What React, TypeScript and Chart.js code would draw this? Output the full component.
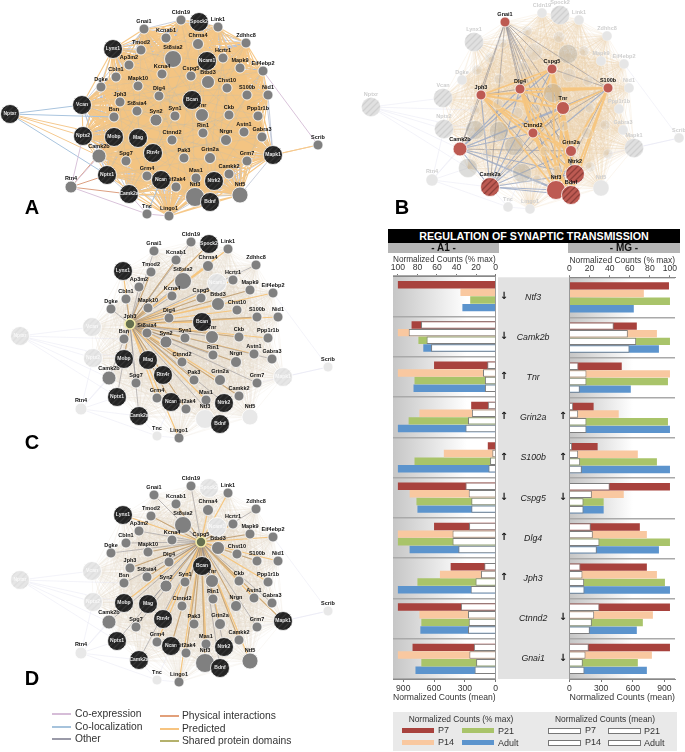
import React, { useEffect, useRef } from "react";
import { Chart, registerables } from "chart.js";

Chart.register(...registerables);

// ---------- bar chart data ----------
const genes = ["Ntf3", "Camk2b", "Tnr", "Grin2a", "S100b", "Cspg5", "Dlg4", "Jph3", "Ctnnd2", "Gnai1"];
const a1MaxP7 = [100, 86, 63, 25, 8, 100, 63, 46, 100, 85];
const a1MaxP14 = [36, 100, 100, 78, 53, 88, 100, 57, 78, 100];
const a1MaxP21 = [26, 79, 83, 89, 83, 81, 100, 80, 76, 76];
const a1MaxAdult = [34, 74, 84, 100, 100, 80, 88, 100, 77, 82];
const a1MeanP7 = [null, 727, 82, 76, 8, 294, 259, 111, 338, 212];
const a1MeanP14 = [null, 847, 123, 231, 32, 262, 420, 142, 269, 256];
const a1MeanP21 = [null, 673, 104, 269, 54, 237, 420, 196, 262, 190];
const a1MeanAdult = [null, 629, 104, 294, 70, 237, 363, 243, 269, 205];
const mgMaxP7 = [99, 67, 52, 24, 28, 100, 70, 77, 100, 100];
const mgMaxP14 = [74, 87, 100, 49, 68, 54, 77, 87, 83, 82];
const mgMaxP21 = [100, 100, 98, 98, 87, 34, 100, 95, 73, 68];
const mgMaxAdult = [64, 89, 61, 100, 100, 34, 89, 100, 67, 77];
const mgMeanP7 = [null, 420, 85, 35, 25, 382, 202, 104, 284, 183];
const mgMeanP14 = [null, 553, 161, 82, 82, 212, 221, 123, 234, 152];
const mgMeanP21 = [null, 632, 161, 161, 101, 133, 284, 139, 212, 126];
const mgMeanAdult = [null, 569, 98, 161, 117, 133, 259, 142, 193, 142];
const arrowsA1 = ["↓", "↓", "↑", "↑", "↑", "↓", "↑", "↑", "", ""];
const arrowsMG = ["", "", "", "↑", "↑", "↓", "", "", "↓", "↓"];
const stages = ["P7", "P14", "P21", "Adult"];

// ---------- network data (layout) ----------
const geneNames = ["Cldn19","Spock2","Link1","Gnai1","Kcnab1","Chrna4","Zdhhc8","Tmod2","Lynx1","St8sia2","Ncam1","Hcrtr1","Ap3m2","Mapk9","Eif4ebp2","Kcna4","Cspg5","Btbd3","Cbln1","Mapk10","Chst10","Dgke","S100b","Nid1","Dlg4","Jph3","Bcan","Vcan","St8sia4","Syn1","Tnr","Ckb","Ppp1r1b","Bsn","Nptxr","Syn2","Rin1","Nrgn","Astn1","Gabra3","Nptx2","Mobp","Mag","Ctnnd2","Rtn4r","Camk2b","Pak3","Grin2a","Grm7","Mapk1","Scrib","Spg7","Camkk2","Grm4","Nptx1","Ncan","Mas1","Ntrk2","Eif2ak4","Rtn4","Camk2a","Ntf3","Ntf5","Bdnf","Tnc","Lingo1"];
const nodeX = [181,199,218,144,166,198,246,141,113,173,207,223,129,240,263,162,191,208,116,138,227,101,247,268,159,120,192,82,137,175,202,229,258,114,10,156,203,226,244,262,83,114,138,172,153,99,184,210,247,273,318,126,229,147,107,161,196,214,176,71,129,195,240,210,147,169];
const nodeY = [20,22,27,29,38,44,43,50,49,59,61,58,65,68,71,74,76,82,77,86,88,87,95,95,96,102,100,105,111,116,115,115,116,117,114,120,133,140,132,137,136,137,138,140,153,156,158,158,161,155,145,161,174,176,175,180,178,181,187,187,194,197,195,202,214,216];
const nodeSize = [5,9.5,5,5,5,5.5,5,5,9.5,8.5,9.5,5,5,5,5,5,5,6.5,5,5,5,5,5,5,5,5,9.5,9.5,5,5,6.5,5,5,5,9.5,6,5,5.5,5,5,9.5,9.5,9.5,5,9.5,7,5,5.5,5,9.5,5,5,5,5,9.5,9.5,5,9.5,5,6,9.5,9.5,8,9.5,5,5];
const darkGenes = ["Spock2","Lynx1","Ncam1","Bcan","Vcan","Nptxr","Nptx2","Mobp","Mag","Rtn4r","Mapk1","Nptx1","Ncan","Ntrk2","Camk2a","Bdnf"];
const sparseGenes = ["Nptxr","Scrib","Rtn4","Tnc"];
const rimGenes = ["Cldn19","Spock2","Link1","Gnai1","Zdhhc8","Lynx1","Eif4ebp2","Dgke","Nid1","Vcan","Nptx2","Mapk1","Rtn4","Tnc","Lingo1","Ntf5","Nptx1","Camk2a","Kcnab1","Chrna4","Tmod2","Cbln1","Ap3m2","Camk2b","Camkk2","Bdnf","Ntrk2","Grm7","Mas1"];
const sparseLinks: [string, string, string][] = [
  ["Nptxr","Vcan","coloc"],["Nptxr","Bsn","coloc"],["Nptxr","Nptx2","pred"],["Nptxr","Mobp","pred"],["Nptxr","Nptx1","coloc"],["Nptxr","Camk2b","pred"],
  ["Scrib","Mapk1","pred"],["Scrib","Eif4ebp2","coexp"],["Scrib","Grm7","pred"],
  ["Rtn4","Nptx1","phys"],["Rtn4","Camk2a","phys"],["Rtn4","Nptx2","coexp"],["Rtn4","Camk2b","coexp"],["Rtn4","Tnc","coexp"],["Rtn4","Mobp","phys"],
  ["Tnc","Lingo1","coexp"],["Tnc","Camk2a","coexp"],["Tnc","Ncan","coloc"],
];
const highlightB = ["Gnai1","Cspg5","Dlg4","Jph3","S100b","Tnr","Ctnnd2","Camk2b","Grin2a","Ntrk2","Camk2a","Ntf3","Bdnf"];
const labelledFaintB = ["Cldn19","Spock2","Link1","Lynx1","Zdhhc8","Eif4ebp2","Dgke","Nid1","Vcan","Nptxr","Nptx2","Ppp1r1b","Gabra3","Mapk1","Scrib","Rtn4","Ntf5","Tnc","Lingo1","Mapk9"];
const fadedC = ["Vcan","Nptxr","Nptx2","Mapk1","Scrib","Rtn4","Ntf3","Ntf5","Tnc","Ncam1"];
const fadedD = ["Spock2","Ncam1","Vcan","Nptxr","Nptx2","Scrib","Rtn4","Tnc"];
const panelShiftX = [0, 361, 10, 10];
const panelShiftY = [0, -7, 222, 466];

const linkColors: Record<string, string> = { coexp: "#d9c3da", coloc: "#a9c4de", pred: "#f5c98f", phys: "#dc9f80" };

type Pt = { x: number; y: number };
const gap: Pt = { x: NaN, y: NaN };
const idx = (g: string) => geneNames.indexOf(g);

function edgeLine(pts: Pt[], i: number, j: number, p: number) {
  pts.push({ x: nodeX[i] + panelShiftX[p], y: nodeY[i] + panelShiftY[p] });
  pts.push({ x: nodeX[j] + panelShiftX[p], y: nodeY[j] + panelShiftY[p] });
  pts.push(gap);
}

function lineDs(pts: Pt[], color: string, width: number, order: number) {
  return { type: "line", data: pts, borderColor: color, borderWidth: width, pointRadius: 0, spanGaps: false, tension: 0, fill: false, order, clip: false };
}

function hatch(base: string, stripe: string) {
  const c = document.createElement("canvas");
  c.width = 6; c.height = 6;
  const g = c.getContext("2d")!;
  g.fillStyle = base; g.fillRect(0, 0, 6, 6);
  g.strokeStyle = stripe; g.lineWidth = 1.3;
  g.beginPath();
  g.moveTo(-1, 1); g.lineTo(1, -1);
  g.moveTo(-1, 7); g.lineTo(7, -1);
  g.moveTo(5, 7); g.lineTo(7, 5);
  g.stroke();
  return g.createPattern(c, "repeat")!;
}

function buildNetwork() {
  const ds: any[] = [];
  const n = geneNames.length;
  const dense: number[] = [];
  for (let i = 0; i < n; i++) if (!sparseGenes.includes(geneNames[i])) dense.push(i);
  const core = dense.filter((i) => !rimGenes.includes(geneNames[i]));

  const darkHatch = hatch("#242424", "#343434");
  const redHatch = hatch("#bd5a52", "#8f3f3a");
  const faintHatch = hatch("#e0e0e0", "#d0d0d0");
  const paleHatch = hatch("#e6e6e6", "#dfdfdf");

  const labels: { t: string; x: number; y: number; c: string; f: number }[] = [];

  // Panel A: full network
  {
    const gray: Pt[] = [], orange: Pt[] = [], blue: Pt[] = [], mass: Pt[] = [];
    dense.forEach((a, ia) => dense.forEach((b, ib) => {
      if (ib <= ia) return;
      if ((a + b) % 3 === 0) edgeLine(gray, a, b, 0);
      else edgeLine(orange, a, b, 0);
      if ((a + 3 * b) % 19 === 0) edgeLine(blue, a, b, 0);
    }));
    core.forEach((a, ia) => core.forEach((b, ib) => { if (ib > ia) edgeLine(mass, a, b, 0); }));
    ds.push(lineDs(gray, "rgba(176,186,204,0.85)", 0.8, 10));
    ds.push(lineDs(orange, "rgba(245,197,130,0.95)", 1.1, 9));
    ds.push(lineDs(mass, "rgb(243,196,130)", 5, 8));
    ds.push(lineDs(blue, "rgba(150,180,205,0.3)", 0.5, 7));
    for (const key of Object.keys(linkColors)) {
      const pts: Pt[] = [];
      sparseLinks.filter((l) => l[2] === key).forEach((l) => edgeLine(pts, idx(l[0]), idx(l[1]), 0));
      ds.push(lineDs(pts, linkColors[key], 1, 6));
    }
  }

  const faintEdges = (p: number) => {
    const pts: Pt[] = [];
    dense.forEach((a, ia) => dense.forEach((b, ib) => { if (ib > ia) edgeLine(pts, a, b, p); }));
    ds.push(lineDs(pts, p === 1 ? "rgba(232,208,172,0.32)" : "rgba(226,216,202,0.3)", 0.6, 9));
    const s: Pt[] = [];
    sparseLinks.forEach((l) => edgeLine(s, idx(l[0]), idx(l[1]), p));
    ds.push(lineDs(s, "rgba(225,225,240,0.6)", 0.7, 8));
  };

  // Panel B: highlighted subset
  {
    faintEdges(1);
    const gray: Pt[] = [], orange: Pt[] = [], blue: Pt[] = [];
    const h = highlightB.map(idx);
    h.forEach((a, ia) => h.forEach((b, ib) => {
      if (ib <= ia) return;
      const ga = geneNames[a], gb = geneNames[b];
      if (ga === "Gnai1" || gb === "Gnai1" || (ia + ib) % 5 === 0) edgeLine(gray, a, b, 1);
      else if (ga.startsWith("Camk2") || gb.startsWith("Camk2")) edgeLine(blue, a, b, 1);
      else edgeLine(orange, a, b, 1);
    }));
    ds.push(lineDs(gray, "rgba(140,140,150,0.7)", 0.8, 7));
    ds.push(lineDs(blue, "rgba(150,168,200,0.8)", 1.1, 6));
    ds.push(lineDs(orange, "rgba(247,197,125,0.95)", 1.8, 5));
  }

  // Panels C and D: hub spokes
  [[2, "Jph3", fadedC], [3, "Cspg5", fadedD]].forEach(([p, hub, faded]: any) => {
    faintEdges(p);
    const gray: Pt[] = [], orange: Pt[] = [];
    const hi = idx(hub);
    for (let i = 0; i < n; i++) {
      if (i === hi || faded.includes(geneNames[i])) continue;
      if (i % 3 === 0) edgeLine(gray, hi, i, p);
      else edgeLine(orange, hi, i, p);
      if (i % 3 === 1) edgeLine(gray, hi, i, p);
    }
    ds.push(lineDs(orange, "rgba(246,196,122,0.95)", 1.2, 6));
    ds.push(lineDs(gray, "rgba(125,125,135,0.55)", 0.8, 5));
  });

  // Nodes, per panel
  [0, 1, 2, 3].forEach((p) => {
    const data: any[] = [], fill: any[] = [], line: any[] = [], bw: number[] = [];
    const faded = p === 2 ? fadedC : p === 3 ? fadedD : [];
    const hub = p === 2 ? "Jph3" : p === 3 ? "Cspg5" : "";
    for (let i = 0; i < n; i++) {
      const g = geneNames[i];
      const isDark = darkGenes.includes(g);
      const x = nodeX[i] + panelShiftX[p];
      const y = nodeY[i] + panelShiftY[p];
      const r = nodeSize[i];
      data.push({ x, y, r });
      let f: any, lc = "#ffffff", b = 0.8;
      let label = "#111111";
      let show = true;
      if (p === 1) {
        if (highlightB.includes(g)) {
          f = ["Ntrk2", "Camk2a", "Bdnf"].includes(g) ? redHatch : "#bd5a52";
        } else {
          const outer = labelledFaintB.includes(g);
          f = isDark ? (outer ? faintHatch : "rgba(170,170,165,0.4)") : outer ? "#e6e6e6" : "rgba(205,205,205,0.3)";
          lc = "rgba(255,255,255,0.4)";
          label = "#cfcfcf";
          show = outer;
        }
      } else if (g === hub) {
        f = "#66704f"; lc = "#f3edaa"; b = 1.6;
      } else if (faded.includes(g)) {
        f = isDark ? paleHatch : "#e8e8e8";
      } else {
        f = isDark ? darkHatch : "#808080";
      }
      fill.push(f); line.push(lc); bw.push(b);
      if (show) {
        if (isDark && p !== 1) {
          labels.push({ t: g, x, y: y, c: faded.includes(g) ? "#f8f8f8" : "#e6e6e6", f: 5 });
        } else {
          labels.push({ t: g, x, y: y - r - 3, c: label, f: 5.5 });
        }
      }
    }
    ds.push({ type: "bubble", data, backgroundColor: fill, borderColor: line, borderWidth: bw, order: 1, clip: false });
  });

  return { ds, labels };
}

const nodeLabelPlugin = (labels: { t: string; x: number; y: number; c: string; f: number }[]) => ({
  id: "nodeLabels",
  afterDatasetsDraw(chart: any) {
    const { ctx, scales } = chart;
    ctx.save();
    ctx.textAlign = "center";
    ctx.textBaseline = "middle";
    labels.forEach((l) => {
      ctx.font = `bold ${l.f}px "Liberation Sans"`;
      ctx.fillStyle = l.c;
      ctx.fillText(l.t, scales.x.getPixelForValue(l.x), scales.y.getPixelForValue(l.y));
    });
    ctx.restore();
  },
});

const barFill = ["#a8423d", "#f9c8a0", "#a9c46a", "#5c94cd"];

function barDatasets(maxes: number[][], means: (number | null)[][]) {
  const out: any[] = [];
  means.forEach((d, i) => out.push({ label: stages[i] + " mean", data: d, stack: stages[i], xAxisID: "x2", yAxisID: "y", backgroundColor: "#ffffff", borderColor: "#7e7e7e", borderWidth: 1, order: 0 }));
  maxes.forEach((d, i) => out.push({ label: stages[i], data: d, stack: stages[i], xAxisID: "x", yAxisID: "y", backgroundColor: barFill[i], borderWidth: 0, order: 1 }));
  return out;
}

function barOptions(reverse: boolean, topTitle: string, bottomTitle: string, padding: any, yAxis: any) {
  const font = { family: '"Liberation Sans"', size: 8.6 };
  const axis = (position: string, title: string, max: number, step: number, height: number, titlePad: any, tick: number) => ({
    axis: "x", position, reverse, min: 0, max, offset: false,
    ticks: { stepSize: step, includeBounds: false, color: "#333", font, padding: 1, maxRotation: 0 },
    grid: { drawOnChartArea: false, tickLength: tick, tickColor: "#777" },
    border: { display: true, color: "#888" },
    title: { display: true, text: title, color: "#333", font: { ...font, size: 9 }, padding: titlePad },
    afterFit: (s: any) => { s.height = height; },
  });
  return {
    responsive: false, animation: false as const, indexAxis: "y" as const, events: [],
    layout: { padding },
    plugins: { legend: { display: false }, tooltip: { enabled: false } },
    datasets: { bar: { categoryPercentage: 0.76, barPercentage: 0.97 } },
    scales: {
      x: axis("top", topTitle, 105, 20, 24, { top: 2, bottom: 0 }, 2),
      x2: axis("bottom", bottomTitle, 1000, 300, 26, { top: 0, bottom: 2 }, 3),
      y: yAxis,
    },
  };
}

const rowShade = (stopAt: number) => ({
  id: "rowShade",
  beforeDraw(chart: any) {
    const { ctx, chartArea: a } = chart;
    const g = ctx.createLinearGradient(a.left, 0, a.right, 0);
    g.addColorStop(0, "#c6c6c6");
    g.addColorStop(stopAt, "#ffffff");
    g.addColorStop(1, "#ffffff");
    ctx.save();
    ctx.fillStyle = g;
    ctx.fillRect(a.left, a.top, a.right - a.left, a.bottom - a.top);
    if (a.left > 20) {
      ctx.fillStyle = "#e2e2e2";
      ctx.fillRect(0, a.top, a.left, a.bottom - a.top);
    }
    ctx.restore();
  },
});

const arrowPlugin = (leftX: number, rightX: number) => ({
  id: "arrows",
  afterDraw(chart: any) {
    const { ctx, scales } = chart;
    ctx.save();
    ctx.textAlign = "center";
    ctx.textBaseline = "middle";
    ctx.fillStyle = "#111";
    ctx.font = 'bold 10px "DejaVu Sans"';
    genes.forEach((_, i) => {
      const y = scales.y.getPixelForTick(i) - 1;
      if (arrowsA1[i]) ctx.fillText(arrowsA1[i], leftX, y);
      if (arrowsMG[i]) ctx.fillText(arrowsMG[i], rightX, y);
    });
    ctx.restore();
  },
});

const abs = (left: number, top: number, width: number, height: number, extra: React.CSSProperties = {}): React.CSSProperties => ({
  position: "absolute", left, top, width, height, ...extra,
});
const sans = '"Liberation Sans", Arial, sans-serif';

function Txt({ x, y, children, size = 9, color = "#333", weight = 400, center = false }: any) {
  return (
    <div style={{ position: "absolute", left: x, top: y, transform: center ? "translate(-50%,-50%)" : "translateY(-50%)", fontFamily: sans, fontSize: size, color, fontWeight: weight, whiteSpace: "nowrap", lineHeight: 1 }}>
      {children}
    </div>
  );
}

const netLegendLeft: [string, string][] = [["Co-expression", "#d6bdd8"], ["Co-localization", "#a6c3dc"], ["Other", "#9a9aa8"]];
const netLegendRight: [string, string][] = [["Physical interactions", "#e2a07a"], ["Predicted", "#f7c480"], ["Shared protein domains", "#b4b16c"]];

export default function App() {
  const netRef = useRef<HTMLCanvasElement>(null);
  const leftRef = useRef<HTMLCanvasElement>(null);
  const rightRef = useRef<HTMLCanvasElement>(null);

  useEffect(() => {
    const { ds, labels } = buildNetwork();
    const net = new Chart(netRef.current!, {
      type: "bubble",
      data: { datasets: ds },
      options: {
        responsive: false, animation: false, events: [],
        layout: { autoPadding: false, padding: 0 },
        plugins: { legend: { display: false }, tooltip: { enabled: false } },
        scales: {
          x: { type: "linear", min: 0, max: 685, display: false },
          y: { type: "linear", min: 0, max: 752, reverse: true, display: false },
        },
      },
      plugins: [nodeLabelPlugin(labels)],
    } as any);

    const gridY = { color: "#a9a9a9", lineWidth: 1.4, drawTicks: false };
    const left = new Chart(leftRef.current!, {
      type: "bar",
      data: {
        labels: genes,
        datasets: barDatasets([a1MaxP7, a1MaxP14, a1MaxP21, a1MaxAdult], [a1MeanP7, a1MeanP14, a1MeanP21, a1MeanAdult]),
      },
      options: barOptions(true, "Normalized Counts (% max)", "Normalized Counts (mean)", { left: 8, right: 0.5 }, {
        type: "category", position: "right",
        ticks: { display: false }, grid: gridY,
        border: { display: true, color: "#999" },
        afterFit: (s: any) => { s.width = 0; },
      }),
      plugins: [rowShade(0.72)],
    } as any);

    const right = new Chart(rightRef.current!, {
      type: "bar",
      data: {
        labels: genes,
        datasets: barDatasets([mgMaxP7, mgMaxP14, mgMaxP21, mgMaxAdult], [mgMeanP7, mgMeanP14, mgMeanP21, mgMeanAdult]),
      },
      options: barOptions(false, "Normalized Counts (% max)", "Normalized Counts (mean)", { left: 0, right: 10 }, {
        type: "category", position: "left",
        ticks: { autoSkip: false, crossAlign: "center", padding: 20, color: "#222", font: { family: '"Liberation Sans"', size: 8.8, style: "italic" } },
        grid: gridY,
        border: { display: true, color: "#999" },
        afterFit: (s: any) => { s.width = 71.5; },
      }),
      plugins: [rowShade(0.6), arrowPlugin(6, 65)],
    } as any);

    return () => { net.destroy(); left.destroy(); right.destroy(); };
  }, []);

  return (
    <div style={abs(0, 0, 685, 752, { background: "#fff", overflow: "hidden" })}>
      <canvas ref={netRef} width={685} height={752} style={abs(0, 0, 685, 752)} />

      {/* Panel letters */}
      <Txt x={32} y={207} size={20} color="#000" weight={700} center>A</Txt>
      <Txt x={402} y={207} size={20} color="#000" weight={700} center>B</Txt>
      <Txt x={32} y={442} size={20} color="#000" weight={700} center>C</Txt>
      <Txt x={32} y={678} size={20} color="#000" weight={700} center>D</Txt>

      {/* Network legend */}
      {netLegendLeft.map(([t, c], i) => (
        <React.Fragment key={t}>
          <div style={abs(52, 713 + i * 12.5, 19, 2, { background: c })} />
          <Txt x={75} y={714 + i * 12.5} size={10.3}>{t}</Txt>
        </React.Fragment>
      ))}
      {netLegendRight.map(([t, c], i) => (
        <React.Fragment key={t}>
          <div style={abs(160, 715 + i * 12.5, 19, 2, { background: c })} />
          <Txt x={182} y={716 + i * 12.5} size={10.3}>{t}</Txt>
        </React.Fragment>
      ))}

      {/* Bar panel heading */}
      <div style={abs(388, 229, 292, 13.5, { background: "#000", color: "#fff", fontFamily: sans, fontWeight: 700, fontSize: 10.7, lineHeight: "14px", textAlign: "center", whiteSpace: "nowrap" })}>
        REGULATION OF SYNAPTIC TRANSMISSION
      </div>
      <div style={abs(388, 243, 111, 10, { background: "#b5b5b5", color: "#111", fontFamily: sans, fontWeight: 700, fontSize: 10, lineHeight: "10px", textAlign: "center" })}>- A1 -</div>
      <div style={abs(568, 243, 112, 10, { background: "#b5b5b5", color: "#111", fontFamily: sans, fontWeight: 700, fontSize: 10, lineHeight: "10px", textAlign: "center" })}>- MG -</div>

      <canvas ref={leftRef} width={114} height={453} style={abs(385, 252, 114, 453)} />
      <canvas ref={rightRef} width={187} height={453} style={abs(498, 252, 187, 453)} />

      {/* Bar legend */}
      <div style={abs(393, 712, 284, 39, { background: "#e9e9e9" })} />
      <Txt x={461} y={718.5} size={8.4} center>Normalized Counts (% max)</Txt>
      <Txt x={605} y={718.5} size={8.4} center>Normalized Counts (mean)</Txt>
      {[[402, 728, 0, 438, 730], [402, 740, 1, 438, 742], [462, 728, 2, 498, 731], [462, 740, 3, 498, 743]].map(([sx, sy, i, tx, ty]) => (
        <React.Fragment key={i}>
          <div style={abs(sx, sy, 32, 4.5, { background: barFill[i] })} />
          <Txt x={tx} y={ty} size={9}>{stages[i]}</Txt>
        </React.Fragment>
      ))}
      {[[548, 728, 0, 585, 730], [548, 740, 1, 585, 742], [608, 728, 2, 644, 731], [608, 740, 3, 644, 743]].map(([sx, sy, i, tx, ty]) => (
        <React.Fragment key={i}>
          <div style={{ ...abs(sx, sy, 31, 3.5), background: "#fff", border: "1px solid #777" }} />
          <Txt x={tx} y={ty} size={9}>{stages[i]}</Txt>
        </React.Fragment>
      ))}
    </div>
  );
}
